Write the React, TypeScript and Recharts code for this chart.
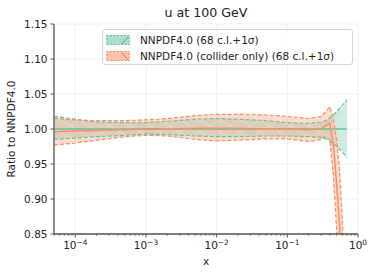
import React from 'react';
import {
  ComposedChart,
  Area,
  Line,
  XAxis,
  YAxis,
  CartesianGrid,
  Label,
} from 'recharts';

const FONT = 'DejaVu Sans';
const GREEN = '#66c2a5';
const ORANGE = '#fc8d62';

// x grid (log spaced)
const X_VALUES = [
  5e-5, 1e-4, 2e-4, 5e-4, 1e-3, 2e-3, 5e-3, 1e-2, 2e-2, 5e-2, 0.1, 0.2, 0.3,
  0.35, 0.4, 0.45, 0.5, 0.55, 0.6, 0.65, 0.7,
];

// NNPDF4.0 (68 c.l.+1σ)
const GREEN_MID = [1, 1, 1, 1, 1, 1, 1, 1, 1, 1, 1, 1, 1, 1, 1, 1, 1, 1, 1, 1, 1];
const GREEN_HI = [
  1.018, 1.014, 1.01, 1.009, 1.009, 1.011, 1.014, 1.015, 1.014, 1.012, 1.009,
  1.008, 1.01, 1.012, 1.016, 1.02, 1.025, 1.03, 1.034, 1.038, 1.042,
];
const GREEN_LO = [
  0.985, 0.987, 0.989, 0.991, 0.993, 0.992, 0.99, 0.989, 0.989, 0.99, 0.99,
  0.989, 0.988, 0.986, 0.982, 0.979, 0.975, 0.971, 0.967, 0.963, 0.959,
];

// NNPDF4.0 (collider only) (68 c.l.+1σ)
const ORANGE_MID = [
  0.996, 0.997, 0.998, 0.999, 1.0, 1.0, 1.001, 1.001, 1.001, 1.0, 1.0, 0.999,
  1.0, 1.005, 1.008, 0.975, 0.92, 0.86, 0.79, 0.71, null,
];
const ORANGE_HI = [
  1.015, 1.013, 1.012, 1.012, 1.013, 1.015, 1.019, 1.021, 1.021, 1.02, 1.018,
  1.015, 1.018, 1.025, 1.032, 1.013, 0.985, 0.94, 0.87, 0.8, null,
];
const ORANGE_LO = [
  0.977, 0.98, 0.984, 0.989, 0.991, 0.99, 0.985, 0.983, 0.984, 0.986, 0.986,
  0.982, 0.985, 0.99, 0.985, 0.93, 0.855, 0.78, 0.7, 0.62, null,
];

const MAJOR_X = [1e-4, 1e-3, 1e-2, 1e-1, 1];
const Y_TICKS = [0.85, 0.9, 0.95, 1.0, 1.05, 1.1, 1.15];

const MINOR_X: number[] = [];
[-5, -4, -3, -2, -1].forEach((e) => {
  for (let m = 2; m <= 9; m++) {
    const v = m * Math.pow(10, e);
    if (v >= 5e-5 && v <= 1) MINOR_X.push(v);
  }
});
const X_TICKS = [...MAJOR_X, ...MINOR_X].sort((a, b) => a - b);

const data = X_VALUES.map((x, i) => ({
  x,
  gMid: GREEN_MID[i],
  gHi: GREEN_HI[i],
  gLo: GREEN_LO[i],
  gBand: [GREEN_LO[i], GREEN_HI[i]],
  oMid: ORANGE_MID[i],
  oHi: ORANGE_HI[i],
  oLo: ORANGE_LO[i],
  oBand: ORANGE_LO[i] == null ? null : [ORANGE_LO[i], ORANGE_HI[i]],
}));

const XTick = (props: any) => {
  const { x, y, payload } = props;
  const lg = Math.log10(payload.value);
  const e = Math.round(lg);
  const major = Math.abs(lg - e) < 1e-6;
  return (
    <g>
      <line
        x1={x}
        x2={x}
        y1={y}
        y2={y + (major ? 3.5 : 2)}
        stroke='#444'
        strokeWidth={major ? 0.9 : 0.6}
      />
      {major && (
        <text
          x={x}
          y={y + 15}
          textAnchor='middle'
          fontSize={10.5}
          fontFamily={FONT}
          fill='#222'
        >
          10
          <tspan dy={-4.5} fontSize={7.4}>
            {e < 0 ? `\u2212${-e}` : `${e}`}
          </tspan>
        </text>
      )}
    </g>
  );
};

const LegendPatch = ({ color, hatch }: { color: string; hatch: 'fwd' | 'back' }) => (
  <svg width={24} height={10} style={{ display: 'block' }}>
    <rect
      x={0.5}
      y={0.5}
      width={23}
      height={9}
      fill={color}
      fillOpacity={0.55}
      stroke={color}
      strokeDasharray='2 1.5'
    />
    {hatch === 'fwd' ? (
      <line x1={16} y1={9} x2={22} y2={2} stroke='#777' strokeWidth={0.8} />
    ) : (
      <line x1={16} y1={2} x2={22} y2={9} stroke='#777' strokeWidth={0.8} />
    )}
  </svg>
);

export default function App() {
  return (
    <div
      style={{
        position: 'absolute',
        left: 0,
        top: 0,
        width: 374,
        height: 275,
        background: '#fff',
        fontFamily: FONT,
      }}
    >
      <div
        style={{
          position: 'absolute',
          left: 54,
          width: 304,
          top: 5,
          textAlign: 'center',
          fontSize: 12.6,
          color: '#222',
          lineHeight: '16px',
        }}
      >
        u at 100 GeV
      </div>
      <ComposedChart
        width={374}
        height={275}
        data={data}
        margin={{ top: 24, right: 16, left: 0, bottom: 0 }}
      >
        <defs>
          <pattern
            id='hatchGreen'
            width={20}
            height={12}
            patternUnits='userSpaceOnUse'
          >
            <rect width={20} height={12} fill={GREEN} fillOpacity={0.55} />
            <line x1={0} y1={12} x2={20} y2={0} stroke='#fff' strokeOpacity={0.5} strokeWidth={0.8} />
          </pattern>
          <pattern
            id='hatchOrange'
            width={20}
            height={12}
            patternUnits='userSpaceOnUse'
          >
            <rect width={20} height={12} fill={ORANGE} fillOpacity={0.55} />
            <line x1={0} y1={0} x2={20} y2={12} stroke='#fff' strokeOpacity={0.55} strokeWidth={0.8} />
          </pattern>
        </defs>
        <CartesianGrid
          stroke='#ececec'
          strokeWidth={0.8}
          verticalValues={MAJOR_X}
        />
        <XAxis
          dataKey='x'
          type='number'
          scale='log'
          domain={[5e-5, 1]}
          allowDataOverflow
          ticks={X_TICKS}
          interval={0}
          tick={<XTick />}
          tickLine={false}
          tickSize={0}
          tickMargin={0}
          height={41}
          axisLine={{ stroke: '#555', strokeWidth: 1.3 }}
        >
          <Label
            value='x'
            position='insideBottom'
            offset={10}
            style={{ fontSize: 10.5, fontFamily: FONT, fill: '#222' }}
          />
        </XAxis>
        <YAxis
          type='number'
          domain={[0.85, 1.15]}
          allowDataOverflow
          ticks={Y_TICKS}
          interval={0}
          width={54}
          tickSize={3.5}
          tickMargin={3}
          tickFormatter={(v) => v.toFixed(2)}
          tick={{ fontSize: 10.5, fontFamily: FONT, fill: '#222' }}
          tickLine={{ stroke: '#444', strokeWidth: 0.9 }}
          axisLine={{ stroke: '#555', strokeWidth: 1.3 }}
        >
          <Label
            value='Ratio to NNPDF4.0'
            angle={-90}
            position='insideLeft'
            offset={11}
            style={{
              fontSize: 10.5,
              fontFamily: FONT,
              fill: '#222',
              textAnchor: 'middle',
            }}
          />
        </YAxis>

        {/* NNPDF4.0 */}
        <Area
          dataKey='gBand'
          fill='url(#hatchGreen)'
          stroke='none'
          isAnimationActive={false}
          activeDot={false}
        />
        <Line dataKey='gHi' stroke={GREEN} strokeWidth={1.2} strokeDasharray='4 2' dot={false} isAnimationActive={false} />
        <Line dataKey='gLo' stroke={GREEN} strokeWidth={1.2} strokeDasharray='4 2' dot={false} isAnimationActive={false} />
        <Line dataKey='gMid' stroke={GREEN} strokeWidth={1.5} dot={false} isAnimationActive={false} />

        {/* NNPDF4.0 (collider only) */}
        <Area
          dataKey='oBand'
          fill='url(#hatchOrange)'
          stroke='none'
          isAnimationActive={false}
          activeDot={false}
        />
        <Line dataKey='oHi' stroke={ORANGE} strokeWidth={1.2} strokeDasharray='4 2' dot={false} isAnimationActive={false} />
        <Line dataKey='oLo' stroke={ORANGE} strokeWidth={1.2} strokeDasharray='4 2' dot={false} isAnimationActive={false} />
        <Line dataKey='oMid' stroke={ORANGE} strokeWidth={1.5} dot={false} isAnimationActive={false} />
      </ComposedChart>

      <div
        style={{
          position: 'absolute',
          left: 102,
          top: 29,
          width: 251,
          height: 36,
          boxSizing: 'border-box',
          border: '1px solid #d4d4d4',
          borderRadius: 3,
          background: 'rgba(255,255,255,0.8)',
          fontSize: 10.5,
          color: '#222',
        }}
      >
        {[
          { color: GREEN, hatch: 'fwd' as const, label: 'NNPDF4.0 (68 c.l.+1σ)' },
          { color: ORANGE, hatch: 'back' as const, label: 'NNPDF4.0 (collider only) (68 c.l.+1σ)' },
        ].map((item, i) => (
          <div
            key={item.label}
            style={{
              position: 'absolute',
              left: 3,
              top: 3 + i * 16,
              height: 14,
              display: 'flex',
              alignItems: 'center',
              whiteSpace: 'nowrap',
            }}
          >
            <LegendPatch color={item.color} hatch={item.hatch} />
            <span style={{ marginLeft: 10 }}>{item.label}</span>
          </div>
        ))}
      </div>
    </div>
  );
}
